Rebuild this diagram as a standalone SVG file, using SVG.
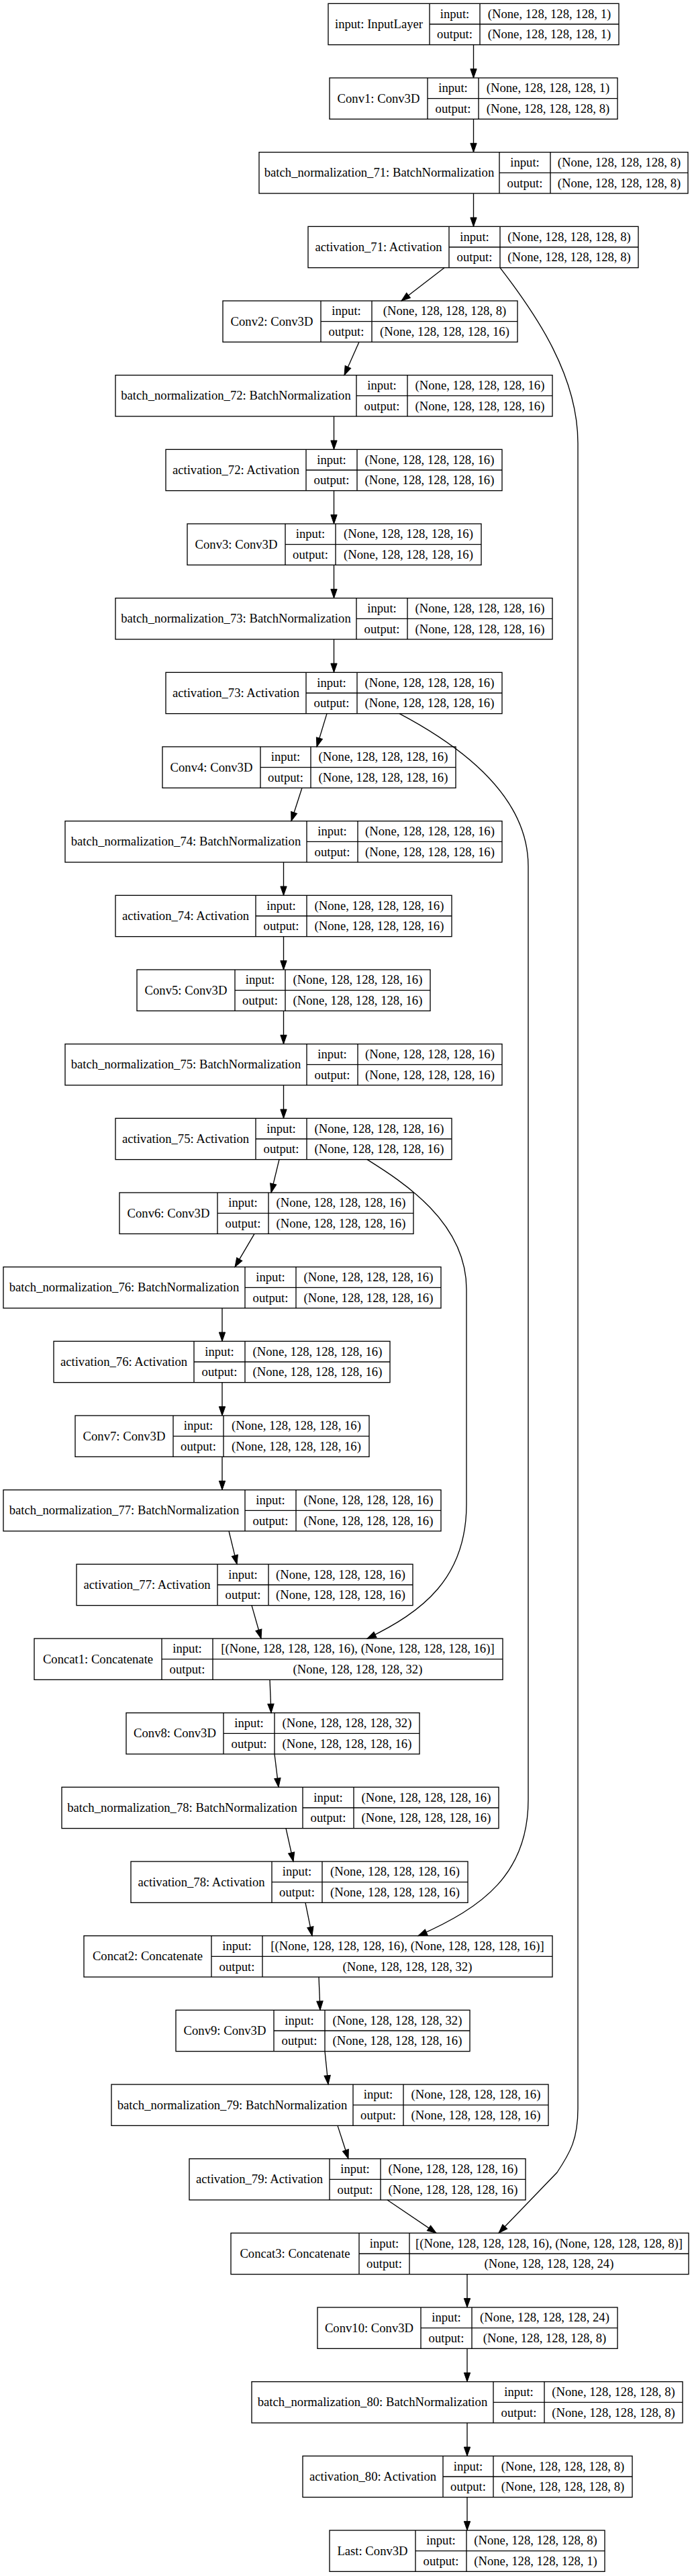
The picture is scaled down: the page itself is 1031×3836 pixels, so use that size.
<svg xmlns="http://www.w3.org/2000/svg" width="1031" height="3836" viewBox="0 0 1031 3836">
<style>
.node rect{fill:none;stroke:#000;stroke-width:1.33}
.node path{fill:none;stroke:#000;stroke-width:1.33}
.node text{font-family:"Liberation Serif","Times New Roman",serif;font-size:18.67px;text-anchor:middle;fill:#000}
.edges path{fill:none;stroke:#000;stroke-width:1.33;marker-end:url(#arr)}
</style>
<defs>
<marker id="arr" markerUnits="userSpaceOnUse" viewBox="0 0 13.33 9.33" markerWidth="13.33" markerHeight="9.33" refX="13.33" refY="4.67" orient="auto" overflow="visible"><path d="M0,0L13.33,4.67L0,9.33z" fill="#000" stroke="#000" stroke-width="1"/></marker>
</defs>
<rect x="0" y="0" width="1031" height="3836" fill="#fff"/>

<g id="input" class="node" transform="translate(0,5.33)"><rect x="489" y="0" width="433" height="61.33"/><path d="M640,0V61.33M715,0V61.33M640,30.67H922"/><text x="564.5" y="36.67">input: InputLayer</text><text x="677.5" y="21.33">input:</text><text x="677.5" y="52">output:</text><text x="818.5" y="21.33">(None, 128, 128, 128, 1)</text><text x="818.5" y="52">(None, 128, 128, 128, 1)</text></g>

<g id="Conv1" class="node" transform="translate(0,116)"><rect x="491" y="0" width="429" height="61.33"/><path d="M637,0V61.33M713,0V61.33M637,30.67H920"/><text x="564" y="36.67">Conv1: Conv3D</text><text x="675" y="21.33">input:</text><text x="675" y="52">output:</text><text x="816.5" y="21.33">(None, 128, 128, 128, 1)</text><text x="816.5" y="52">(None, 128, 128, 128, 8)</text></g>

<g id="batch_normalization_71" class="node" transform="translate(0,226.67)"><rect x="386" y="0" width="639" height="61.33"/><path d="M744,0V61.33M820,0V61.33M744,30.67H1025"/><text x="565" y="36.67">batch_normalization_71: BatchNormalization</text><text x="782" y="21.33">input:</text><text x="782" y="52">output:</text><text x="922.5" y="21.33">(None, 128, 128, 128, 8)</text><text x="922.5" y="52">(None, 128, 128, 128, 8)</text></g>

<g id="activation_71" class="node" transform="translate(0,337.33)"><rect x="459" y="0" width="492" height="61.33"/><path d="M669,0V61.33M745,0V61.33M669,30.67H951"/><text x="564" y="36.67">activation_71: Activation</text><text x="707" y="21.33">input:</text><text x="707" y="52">output:</text><text x="848" y="21.33">(None, 128, 128, 128, 8)</text><text x="848" y="52">(None, 128, 128, 128, 8)</text></g>

<g id="Conv2" class="node" transform="translate(0,448)"><rect x="332" y="0" width="439" height="61.33"/><path d="M478,0V61.33M554,0V61.33M478,30.67H771"/><text x="405" y="36.67">Conv2: Conv3D</text><text x="516" y="21.33">input:</text><text x="516" y="52">output:</text><text x="662.5" y="21.33">(None, 128, 128, 128, 8)</text><text x="662.5" y="52">(None, 128, 128, 128, 16)</text></g>

<g id="batch_normalization_72" class="node" transform="translate(0,558.67)"><rect x="172" y="0" width="651" height="61.33"/><path d="M531,0V61.33M607,0V61.33M531,30.67H823"/><text x="351.5" y="36.67">batch_normalization_72: BatchNormalization</text><text x="569" y="21.33">input:</text><text x="569" y="52">output:</text><text x="715" y="21.33">(None, 128, 128, 128, 16)</text><text x="715" y="52">(None, 128, 128, 128, 16)</text></g>

<g id="activation_72" class="node" transform="translate(0,669.33)"><rect x="247" y="0" width="501" height="61.33"/><path d="M456,0V61.33M532,0V61.33M456,30.67H748"/><text x="351.5" y="36.67">activation_72: Activation</text><text x="494" y="21.33">input:</text><text x="494" y="52">output:</text><text x="640" y="21.33">(None, 128, 128, 128, 16)</text><text x="640" y="52">(None, 128, 128, 128, 16)</text></g>

<g id="Conv3" class="node" transform="translate(0,780)"><rect x="279" y="0" width="438" height="61.33"/><path d="M425,0V61.33M500,0V61.33M425,30.67H717"/><text x="352" y="36.67">Conv3: Conv3D</text><text x="462.5" y="21.33">input:</text><text x="462.5" y="52">output:</text><text x="608.5" y="21.33">(None, 128, 128, 128, 16)</text><text x="608.5" y="52">(None, 128, 128, 128, 16)</text></g>

<g id="batch_normalization_73" class="node" transform="translate(0,890.67)"><rect x="172" y="0" width="651" height="61.33"/><path d="M531,0V61.33M607,0V61.33M531,30.67H823"/><text x="351.5" y="36.67">batch_normalization_73: BatchNormalization</text><text x="569" y="21.33">input:</text><text x="569" y="52">output:</text><text x="715" y="21.33">(None, 128, 128, 128, 16)</text><text x="715" y="52">(None, 128, 128, 128, 16)</text></g>

<g id="activation_73" class="node" transform="translate(0,1001.33)"><rect x="247" y="0" width="501" height="61.33"/><path d="M456,0V61.33M532,0V61.33M456,30.67H748"/><text x="351.5" y="36.67">activation_73: Activation</text><text x="494" y="21.33">input:</text><text x="494" y="52">output:</text><text x="640" y="21.33">(None, 128, 128, 128, 16)</text><text x="640" y="52">(None, 128, 128, 128, 16)</text></g>

<g id="Conv4" class="node" transform="translate(0,1112)"><rect x="242" y="0" width="437" height="61.33"/><path d="M388,0V61.33M463,0V61.33M388,30.67H679"/><text x="315" y="36.67">Conv4: Conv3D</text><text x="425.5" y="21.33">input:</text><text x="425.5" y="52">output:</text><text x="571" y="21.33">(None, 128, 128, 128, 16)</text><text x="571" y="52">(None, 128, 128, 128, 16)</text></g>

<g id="batch_normalization_74" class="node" transform="translate(0,1222.67)"><rect x="97" y="0" width="651" height="61.33"/><path d="M457,0V61.33M533,0V61.33M457,30.67H748"/><text x="277" y="36.67">batch_normalization_74: BatchNormalization</text><text x="495" y="21.33">input:</text><text x="495" y="52">output:</text><text x="640.5" y="21.33">(None, 128, 128, 128, 16)</text><text x="640.5" y="52">(None, 128, 128, 128, 16)</text></g>

<g id="activation_74" class="node" transform="translate(0,1333.33)"><rect x="172" y="0" width="501" height="61.33"/><path d="M381,0V61.33M457,0V61.33M381,30.67H673"/><text x="276.5" y="36.67">activation_74: Activation</text><text x="419" y="21.33">input:</text><text x="419" y="52">output:</text><text x="565" y="21.33">(None, 128, 128, 128, 16)</text><text x="565" y="52">(None, 128, 128, 128, 16)</text></g>

<g id="Conv5" class="node" transform="translate(0,1444)"><rect x="204" y="0" width="437" height="61.33"/><path d="M350,0V61.33M425,0V61.33M350,30.67H641"/><text x="277" y="36.67">Conv5: Conv3D</text><text x="387.5" y="21.33">input:</text><text x="387.5" y="52">output:</text><text x="533" y="21.33">(None, 128, 128, 128, 16)</text><text x="533" y="52">(None, 128, 128, 128, 16)</text></g>

<g id="batch_normalization_75" class="node" transform="translate(0,1554.67)"><rect x="97" y="0" width="651" height="61.33"/><path d="M457,0V61.33M533,0V61.33M457,30.67H748"/><text x="277" y="36.67">batch_normalization_75: BatchNormalization</text><text x="495" y="21.33">input:</text><text x="495" y="52">output:</text><text x="640.5" y="21.33">(None, 128, 128, 128, 16)</text><text x="640.5" y="52">(None, 128, 128, 128, 16)</text></g>

<g id="activation_75" class="node" transform="translate(0,1665.33)"><rect x="172" y="0" width="501" height="61.33"/><path d="M381,0V61.33M457,0V61.33M381,30.67H673"/><text x="276.5" y="36.67">activation_75: Activation</text><text x="419" y="21.33">input:</text><text x="419" y="52">output:</text><text x="565" y="21.33">(None, 128, 128, 128, 16)</text><text x="565" y="52">(None, 128, 128, 128, 16)</text></g>

<g id="Conv6" class="node" transform="translate(0,1776)"><rect x="178" y="0" width="438" height="61.33"/><path d="M324,0V61.33M400,0V61.33M324,30.67H616"/><text x="251" y="36.67">Conv6: Conv3D</text><text x="362" y="21.33">input:</text><text x="362" y="52">output:</text><text x="508" y="21.33">(None, 128, 128, 128, 16)</text><text x="508" y="52">(None, 128, 128, 128, 16)</text></g>

<g id="batch_normalization_76" class="node" transform="translate(0,1886.67)"><rect x="5" y="0" width="652" height="61.33"/><path d="M365,0V61.33M441,0V61.33M365,30.67H657"/><text x="185" y="36.67">batch_normalization_76: BatchNormalization</text><text x="403" y="21.33">input:</text><text x="403" y="52">output:</text><text x="549" y="21.33">(None, 128, 128, 128, 16)</text><text x="549" y="52">(None, 128, 128, 128, 16)</text></g>

<g id="activation_76" class="node" transform="translate(0,1997.33)"><rect x="80" y="0" width="501" height="61.33"/><path d="M289,0V61.33M365,0V61.33M289,30.67H581"/><text x="184.5" y="36.67">activation_76: Activation</text><text x="327" y="21.33">input:</text><text x="327" y="52">output:</text><text x="473" y="21.33">(None, 128, 128, 128, 16)</text><text x="473" y="52">(None, 128, 128, 128, 16)</text></g>

<g id="Conv7" class="node" transform="translate(0,2108)"><rect x="112" y="0" width="438" height="61.33"/><path d="M258,0V61.33M333,0V61.33M258,30.67H550"/><text x="185" y="36.67">Conv7: Conv3D</text><text x="295.5" y="21.33">input:</text><text x="295.5" y="52">output:</text><text x="441.5" y="21.33">(None, 128, 128, 128, 16)</text><text x="441.5" y="52">(None, 128, 128, 128, 16)</text></g>

<g id="batch_normalization_77" class="node" transform="translate(0,2218.67)"><rect x="5" y="0" width="652" height="61.33"/><path d="M365,0V61.33M441,0V61.33M365,30.67H657"/><text x="185" y="36.67">batch_normalization_77: BatchNormalization</text><text x="403" y="21.33">input:</text><text x="403" y="52">output:</text><text x="549" y="21.33">(None, 128, 128, 128, 16)</text><text x="549" y="52">(None, 128, 128, 128, 16)</text></g>

<g id="activation_77" class="node" transform="translate(0,2329.33)"><rect x="114" y="0" width="501" height="61.33"/><path d="M324,0V61.33M400,0V61.33M324,30.67H615"/><text x="219" y="36.67">activation_77: Activation</text><text x="362" y="21.33">input:</text><text x="362" y="52">output:</text><text x="507.5" y="21.33">(None, 128, 128, 128, 16)</text><text x="507.5" y="52">(None, 128, 128, 128, 16)</text></g>

<g id="Concat1" class="node" transform="translate(0,2440)"><rect x="51" y="0" width="698" height="61.33"/><path d="M241,0V61.33M317,0V61.33M241,30.67H749"/><text x="146" y="36.67">Concat1: Concatenate</text><text x="279" y="21.33">input:</text><text x="279" y="52">output:</text><text x="533" y="21.33">[(None, 128, 128, 128, 16), (None, 128, 128, 128, 16)]</text><text x="533" y="52">(None, 128, 128, 128, 32)</text></g>

<g id="Conv8" class="node" transform="translate(0,2550.67)"><rect x="188" y="0" width="437" height="61.33"/><path d="M333,0V61.33M409,0V61.33M333,30.67H625"/><text x="260.5" y="36.67">Conv8: Conv3D</text><text x="371" y="21.33">input:</text><text x="371" y="52">output:</text><text x="517" y="21.33">(None, 128, 128, 128, 32)</text><text x="517" y="52">(None, 128, 128, 128, 16)</text></g>

<g id="batch_normalization_78" class="node" transform="translate(0,2661.33)"><rect x="92" y="0" width="651" height="61.33"/><path d="M451,0V61.33M527,0V61.33M451,30.67H743"/><text x="271.5" y="36.67">batch_normalization_78: BatchNormalization</text><text x="489" y="21.33">input:</text><text x="489" y="52">output:</text><text x="635" y="21.33">(None, 128, 128, 128, 16)</text><text x="635" y="52">(None, 128, 128, 128, 16)</text></g>

<g id="activation_78" class="node" transform="translate(0,2772)"><rect x="195" y="0" width="502" height="61.33"/><path d="M405,0V61.33M480,0V61.33M405,30.67H697"/><text x="300" y="36.67">activation_78: Activation</text><text x="442.5" y="21.33">input:</text><text x="442.5" y="52">output:</text><text x="588.5" y="21.33">(None, 128, 128, 128, 16)</text><text x="588.5" y="52">(None, 128, 128, 128, 16)</text></g>

<g id="Concat2" class="node" transform="translate(0,2882.67)"><rect x="125" y="0" width="698" height="61.33"/><path d="M315,0V61.33M391,0V61.33M315,30.67H823"/><text x="220" y="36.67">Concat2: Concatenate</text><text x="353" y="21.33">input:</text><text x="353" y="52">output:</text><text x="607" y="21.33">[(None, 128, 128, 128, 16), (None, 128, 128, 128, 16)]</text><text x="607" y="52">(None, 128, 128, 128, 32)</text></g>

<g id="Conv9" class="node" transform="translate(0,2993.33)"><rect x="262" y="0" width="438" height="61.33"/><path d="M408,0V61.33M484,0V61.33M408,30.67H700"/><text x="335" y="36.67">Conv9: Conv3D</text><text x="446" y="21.33">input:</text><text x="446" y="52">output:</text><text x="592" y="21.33">(None, 128, 128, 128, 32)</text><text x="592" y="52">(None, 128, 128, 128, 16)</text></g>

<g id="batch_normalization_79" class="node" transform="translate(0,3104)"><rect x="166" y="0" width="651" height="61.33"/><path d="M526,0V61.33M601,0V61.33M526,30.67H817"/><text x="346" y="36.67">batch_normalization_79: BatchNormalization</text><text x="563.5" y="21.33">input:</text><text x="563.5" y="52">output:</text><text x="709" y="21.33">(None, 128, 128, 128, 16)</text><text x="709" y="52">(None, 128, 128, 128, 16)</text></g>

<g id="activation_79" class="node" transform="translate(0,3214.67)"><rect x="282" y="0" width="501" height="61.33"/><path d="M491,0V61.33M567,0V61.33M491,30.67H783"/><text x="386.5" y="36.67">activation_79: Activation</text><text x="529" y="21.33">input:</text><text x="529" y="52">output:</text><text x="675" y="21.33">(None, 128, 128, 128, 16)</text><text x="675" y="52">(None, 128, 128, 128, 16)</text></g>

<g id="Concat3" class="node" transform="translate(0,3325.33)"><rect x="344" y="0" width="682" height="61.33"/><path d="M535,0V61.33M610,0V61.33M535,30.67H1026"/><text x="439.5" y="36.67">Concat3: Concatenate</text><text x="572.5" y="21.33">input:</text><text x="572.5" y="52">output:</text><text x="818" y="21.33">[(None, 128, 128, 128, 16), (None, 128, 128, 128, 8)]</text><text x="818" y="52">(None, 128, 128, 128, 24)</text></g>

<g id="Conv10" class="node" transform="translate(0,3436)"><rect x="473" y="0" width="447" height="61.33"/><path d="M627,0V61.33M703,0V61.33M627,30.67H920"/><text x="550" y="36.67">Conv10: Conv3D</text><text x="665" y="21.33">input:</text><text x="665" y="52">output:</text><text x="811.5" y="21.33">(None, 128, 128, 128, 24)</text><text x="811.5" y="52">(None, 128, 128, 128, 8)</text></g>

<g id="batch_normalization_80" class="node" transform="translate(0,3546.67)"><rect x="375" y="0" width="642" height="61.33"/><path d="M735,0V61.33M811,0V61.33M735,30.67H1017"/><text x="555" y="36.67">batch_normalization_80: BatchNormalization</text><text x="773" y="21.33">input:</text><text x="773" y="52">output:</text><text x="914" y="21.33">(None, 128, 128, 128, 8)</text><text x="914" y="52">(None, 128, 128, 128, 8)</text></g>

<g id="activation_80" class="node" transform="translate(0,3657.33)"><rect x="451" y="0" width="491" height="61.33"/><path d="M660,0V61.33M735,0V61.33M660,30.67H942"/><text x="555.5" y="36.67">activation_80: Activation</text><text x="697.5" y="21.33">input:</text><text x="697.5" y="52">output:</text><text x="838.5" y="21.33">(None, 128, 128, 128, 8)</text><text x="838.5" y="52">(None, 128, 128, 128, 8)</text></g>

<g id="Last" class="node" transform="translate(0,3768)"><rect x="491" y="0" width="410" height="61.33"/><path d="M619,0V61.33M695,0V61.33M619,30.67H901"/><text x="555" y="36.67">Last: Conv3D</text><text x="657" y="21.33">input:</text><text x="657" y="52">output:</text><text x="798" y="21.33">(None, 128, 128, 128, 8)</text><text x="798" y="52">(None, 128, 128, 128, 1)</text></g>

<g id="connectors" class="edges">
<path d="M705.5,66.67L705.5,116"/>
<path d="M705.5,177.33L705.5,226.67"/>
<path d="M705.5,288L705.5,337.33"/>
<path d="M662,398.67L598,448"/>
<path d="M535,509.33L513,558.67"/>
<path d="M497.5,620L497.5,669.33"/>
<path d="M497.5,730.67L497.5,780"/>
<path d="M497.5,841.33L497.5,890.67"/>
<path d="M497.5,952L497.5,1001.33"/>
<path d="M487,1062.67L472,1112"/>
<path d="M450,1173.33L434,1222.67"/>
<path d="M422.5,1284L422.5,1333.33"/>
<path d="M422.5,1394.67L422.5,1444"/>
<path d="M422.5,1505.33L422.5,1554.67"/>
<path d="M422.5,1616L422.5,1665.33"/>
<path d="M416,1726.67L404,1776"/>
<path d="M379,1837.33L350,1886.67"/>
<path d="M331,1948L331,1997.33"/>
<path d="M331,2058.67L331,2108"/>
<path d="M331,2169.33L331,2218.67"/>
<path d="M341,2280L353,2329.33"/>
<path d="M375,2390.67L389,2440"/>
<path d="M402,2501.33L404,2550.67"/>
<path d="M409,2612L415,2661.33"/>
<path d="M426,2722.67L437,2772"/>
<path d="M455,2833.33L465,2882.67"/>
<path d="M475,2944L477,2993.33"/>
<path d="M484,3054.67L489,3104"/>
<path d="M503,3165.33L519,3214.67"/>
<path d="M577,3276L650,3325.33"/>
<path d="M696,3386.67L696,3436"/>
<path d="M696,3497.33L696,3546.67"/>
<path d="M696,3608L696,3657.33"/>
<path d="M696,3718.67L696,3768"/>
<path d="M745,398.67C800,470 861,560 861,660L861,3140C861,3185 850,3205 830,3235L743,3325.33"/>
<path d="M595,1062.67C675,1105 787,1180 787,1290L787,2680C787,2790 720,2840 623,2882.67"/>
<path d="M547,1726.67C600,1760 695,1820 695,1920L695,2240C695,2350 630,2400 547,2440"/>
</g>
</svg>
